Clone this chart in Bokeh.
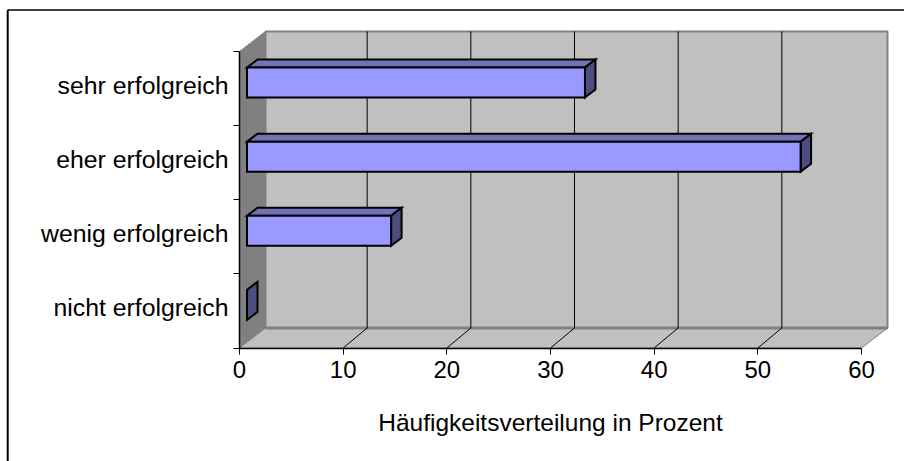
from bokeh.plotting import figure
from bokeh.embed import file_html
from bokeh.resources import INLINE
from bokeh.models import FixedTicker, LinearAxis, Range1d

categories = ["nicht erfolgreich", "wenig erfolgreich", "eher erfolgreich", "sehr erfolgreich"]
values = [0, 13.9, 53.4, 32.6]
x_ticks = [0, 10, 20, 30, 40, 50, 60]
x_title = "Häufigkeitsverteilung in Prozent"

# pixel geometry of the reference
L, R, T, B = 5, 904, 8, 461
X0, X60, Y0, Y4 = 239.0, 861.0, 347.5, 51.0
kx = (X60 - X0) / 60
ky = (Y0 - Y4) / 4
DX = 26 / kx          # depth of the 3D box
GDX = 24 / kx
DY = 20 / ky
BDX0, BDX1 = 7.5 / kx, 18 / kx   # bar depth
BDY0, BDY1 = 6 / ky, 14 / ky
BH = 30 / ky

xl, xr = (L - X0) / kx, (R - X0) / kx
yb, yt = (Y0 - B) / ky, (Y0 - T) / ky

p = figure(width=R - L, height=B - T, output_backend="svg", toolbar_location=None,
           x_range=Range1d(xl, xr), y_range=Range1d(yb, yt),
           min_border=0, x_axis_location=None, y_axis_location=None,
           styles={"position": "absolute", "left": f"{L}px", "top": f"{T}px"})
p.grid.visible = False
p.outline_line_color = None
p.background_fill_color = "#ffffff"

# chart-area edge: only top and left are in the picture
edge_x = (7.2 - X0) / kx
edge_y = (Y0 - 9.5) / ky
p.line([edge_x, edge_x], [yb, edge_y], line_color="#000000", line_width=2)
p.line([edge_x, xr], [edge_y, edge_y], line_color="#000000", line_width=1.6)

# walls
p.patch([DX, 60 + DX, 60 + DX, DX], [DY, DY, 4 + DY, 4 + DY], fill_color="#c0c0c0", line_color="#808080", line_width=2)
p.patch([0, DX, DX, 0], [0, DY, 4 + DY, 4], fill_color="#808080", line_color="#808080", line_width=1)
p.patch([0, 60, 60 + DX, DX], [0, 0, DY, DY], fill_color="#c0c0c0", line_color="#808080", line_width=1)
p.line([DX, 60 + DX], [DY, DY], line_color="#808080", line_width=3)

# gridlines
for t in x_ticks[1:-1]:
    p.line([t + GDX, t + GDX], [DY, 4 + DY], line_color="#000000", line_width=1)
    p.line([t, t + GDX], [0, DY], line_color="#000000", line_width=1)

# bars
for i, v in enumerate(values):
    yc = i + 0.5
    y0, y1 = yc - BH / 2 + BDY0, yc + BH / 2 + BDY0
    xa, xb = BDX0, v + BDX0
    ddx, ddy = BDX1 - BDX0, BDY1 - BDY0
    kw = dict(line_color="#000000", line_width=2, line_join="miter")
    p.patch([xa, xb, xb + ddx, xa + ddx], [y1, y1, y1 + ddy, y1 + ddy], fill_color="#7373b8", **kw)
    p.patch([xb, xb + ddx, xb + ddx, xb], [y0, y0 + ddy, y1 + ddy, y1], fill_color="#4d4d80", **kw)
    if v >= 1:
        p.patch([xa, xb, xb, xa], [y0, y0, y1, y1], fill_color="#9999ff", **kw)

xax = LinearAxis(fixed_location=0, bounds=(0, 60), ticker=FixedTicker(ticks=x_ticks),
                 axis_label=x_title)
xax.axis_line_color = "#000000"
xax.axis_line_width = 1.5
xax.major_tick_line_color = "#000000"
xax.major_tick_out = 6
xax.major_tick_in = 0
xax.minor_tick_line_color = None
xax.major_label_text_font = "Liberation Sans"
xax.major_label_text_font_size = "24px"
xax.major_label_text_color = "#000000"
xax.major_label_standoff = 7
xax.axis_label_text_font = "Liberation Sans"
xax.axis_label_text_font_size = "24.5px"
xax.axis_label_text_font_style = "normal"
xax.axis_label_text_color = "#000000"
xax.axis_label_standoff = 27
p.add_layout(xax, "below")

centers = [i + 0.54 for i in range(len(categories))]
yax = LinearAxis(fixed_location=0, bounds=(0, 4),
                 ticker=FixedTicker(ticks=centers, minor_ticks=[0, 1, 2, 3, 4]))
yax.major_label_overrides = {c: n for c, n in zip(centers, categories)}
yax.axis_line_color = "#000000"
yax.axis_line_width = 1.5
yax.major_tick_line_color = None
yax.minor_tick_line_color = "#000000"
yax.minor_tick_out = 6
yax.minor_tick_in = 0
yax.major_label_text_font = "Liberation Sans"
yax.major_label_text_font_size = "24.8px"
yax.major_label_text_color = "#000000"
yax.major_label_standoff = 5
p.add_layout(yax, "left")

open("out.html", "w").write(file_html(p, INLINE))
